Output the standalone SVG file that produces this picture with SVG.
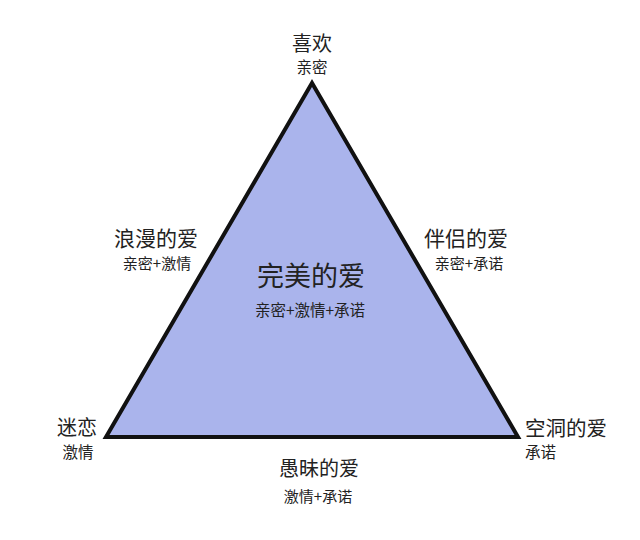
<svg xmlns="http://www.w3.org/2000/svg" width="640" height="540" viewBox="0 0 640 540">
<style>
text{font-family:"Noto Sans CJK SC","Noto Sans",sans-serif;fill:#222;}
.t{font-size:20px;}
.s{font-size:15px;}
.c{text-anchor:middle;}
.l{text-anchor:start;}
</style>
<rect width="640" height="540" fill="#ffffff"/>
<g id="triangle">
<polygon points="312,83 106,437 518,437" fill="#aab4ec" stroke="#111" stroke-width="4" stroke-linejoin="miter"/>
</g>
<g id="node-top">
<text class="t c" x="312" y="51">喜欢</text>
<text class="s c" x="312" y="73" style="font-size:15.5px">亲密</text>
</g>
<g id="node-center">
<text class="c" x="311" y="286" style="font-size:27px">完美的爱</text>
<text class="c" x="310" y="316" style="font-size:15.5px">亲密+激情+承诺</text>
</g>
<g id="node-left-edge">
<text class="t c" x="156" y="246" style="font-size:21px">浪漫的爱</text>
<text class="s c" x="157" y="269">亲密+激情</text>
</g>
<g id="node-right-edge">
<text class="t c" x="466" y="246" style="font-size:21px">伴侣的爱</text>
<text class="s c" x="469" y="269">亲密+承诺</text>
</g>
<g id="node-bottom-left">
<text class="t c" x="77" y="435">迷恋</text>
<text class="s c" x="78" y="458" style="font-size:15.5px">激情</text>
</g>
<g id="node-bottom-right">
<text class="t l" x="525" y="436" style="font-size:20.5px">空洞的爱</text>
<text class="s l" x="525" y="458" style="font-size:15.5px">承诺</text>
</g>
<g id="node-bottom-edge">
<text class="t c" x="319" y="476">愚昧的爱</text>
<text class="s c" x="318" y="502">激情+承诺</text>
</g>
<g id="connectors"></g>
</svg>
